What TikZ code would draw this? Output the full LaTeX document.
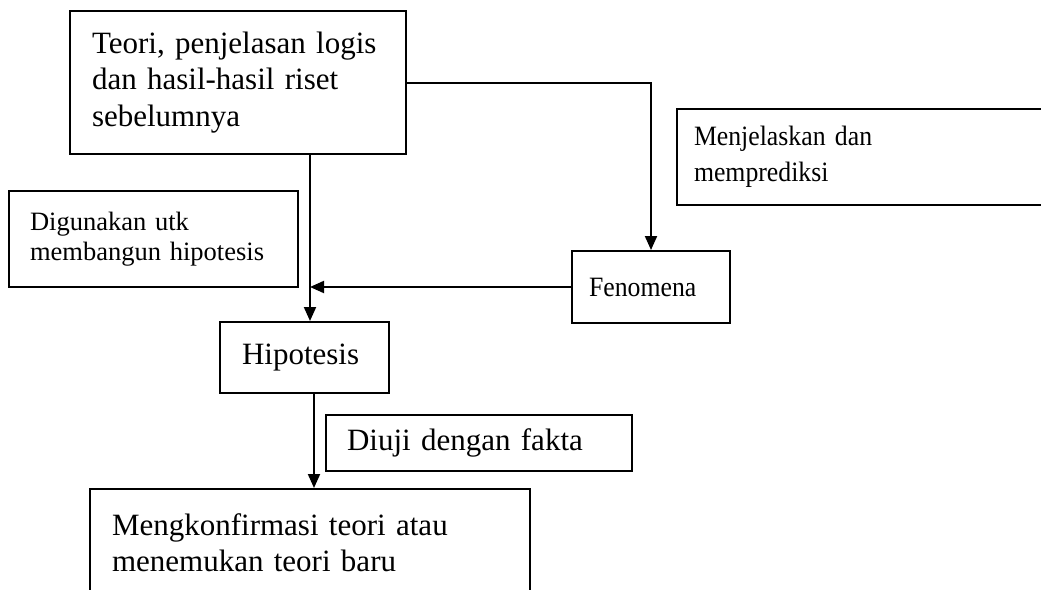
\documentclass[tikz,border=0pt]{standalone}
\usepackage{fontspec}
\setmainfont{Liberation Serif}
\newfontfamily\sempit[FakeStretch=0.92]{Liberation Serif}
\usetikzlibrary{arrows.meta}

\begin{document}
\begin{tikzpicture}[x=1pt,y=-1pt,
    kotak/.style={draw,line width=2pt,align=left,inner ysep=0pt,
        font=\fontsize{31}{36.5}\selectfont},
    kecil/.style={font=\sempit\fontsize{28}{36}\selectfont},
    panah/.style={line width=2pt,-{Triangle[length=14pt,width=12pt]}}]
\useasboundingbox (0,0) rectangle (1041,589);
\clip (0,0) rectangle (1041,589);
% kotak-kotak
\node[kotak,inner xsep=22pt,text width=292pt,minimum height=143pt] (teori) at (238,82.5)
    {Teori, penjelasan logis\\dan hasil-hasil riset\\sebelumnya};
\node[kotak,inner xsep=21pt,text width=247pt,minimum height=96pt,
    font=\fontsize{26.5}{30}\selectfont] (guna) at (153.5,239)
    {Digunakan utk\\membangun hipotesis};
\node[kotak,kecil,inner xsep=17pt,text width=339pt,minimum height=96pt] (jelas) at (863.5,157)
    {Menjelaskan dan\\memprediksi};
\node[kotak,kecil,inner xsep=17pt,text width=124pt,minimum height=72pt] (fen) at (651,287)
    {Fenomena};
\node[kotak,inner xsep=22pt,text width=125pt,minimum height=71pt] (hipo) at (304.5,357.5)
    {Hipotesis};
\node[kotak,inner xsep=21pt,text width=264pt,minimum height=56pt] (uji) at (479,443)
    {Diuji dengan fakta};
\node[kotak,inner xsep=22pt,text width=396pt,minimum height=107pt] (konf) at (310,542.5)
    {Mengkonfirmasi teori atau\\menemukan teori baru};
% panah
\coordinate (garis) at (310,0);
\draw[panah] (garis |- teori.south) -- (garis |- hipo.north);
\draw[panah] (teori.east) -| (fen.north);
\draw[panah] (fen.west) -- (fen.west -| garis);
\draw[panah] ([xshift=9.5pt]hipo.south) -- ([xshift=9.5pt]hipo.south |- konf.north);
\end{tikzpicture}
\end{document}
